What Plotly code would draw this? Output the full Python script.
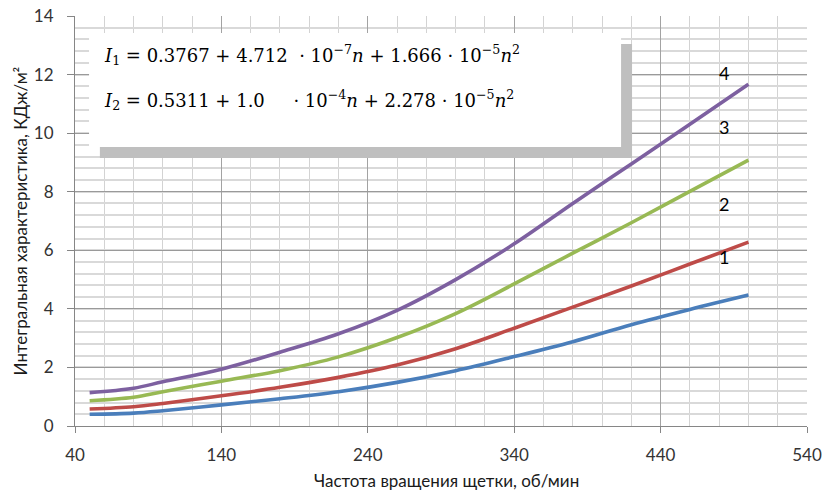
import plotly.graph_objects as go

# Brush rotation speed, rpm
speed = [50, 80, 100, 140, 180, 220, 260, 300, 340, 380, 420, 460, 500]

# Integral characteristic, kJ/m^2, curves 1..4
curve_1 = [0.40, 0.44, 0.52, 0.72, 0.93, 1.17, 1.49, 1.89, 2.37, 2.88, 3.46, 3.98, 4.47]
curve_2 = [0.58, 0.66, 0.77, 1.03, 1.32, 1.66, 2.08, 2.64, 3.34, 4.06, 4.78, 5.53, 6.28]
curve_3 = [0.86, 0.98, 1.17, 1.53, 1.89, 2.36, 3.02, 3.84, 4.85, 5.90, 6.94, 8.01, 9.08]
curve_4 = [1.14, 1.29, 1.51, 1.94, 2.52, 3.15, 3.95, 5.00, 6.22, 7.60, 8.95, 10.30, 11.67]

curve_names = ["1", "2", "3", "4"]
curve_colors = ["#4a7ebb", "#be4b48", "#98b954", "#7d60a0"]

x_ticks = [40, 140, 240, 340, 440, 540]
y_ticks = [0, 2, 4, 6, 8, 10, 12, 14]

fig = go.Figure()
for name, values, color in zip(curve_names, [curve_1, curve_2, curve_3, curve_4], curve_colors):
    fig.add_trace(go.Scatter(
        x=speed, y=values, mode="lines", name=name,
        line=dict(color=color, width=3.6, shape="spline", smoothing=1.0),
        showlegend=False, hoverinfo="x+y",
    ))

# Curve numbers near the right ends
label_pos = {"4": 12.05, "3": 10.22, "2": 7.58, "1": 5.78}
for name, yv in label_pos.items():
    fig.add_annotation(x=483, y=yv, text=name, showarrow=False,
                       font=dict(family="Lato", size=18, color="#000000"),
                       xanchor="center", yanchor="middle")

# Formula box with drop shadow
fig.add_shape(type="rect", xref="x", yref="y", x0=57, x1=420.5, y0=9.15, y1=13.04,
              fillcolor="#bfbfbf", line=dict(width=0), layer="above")
fig.add_shape(type="rect", xref="x", yref="y", x0=49.6, x1=413, y0=9.53, y1=13.42,
              fillcolor="#ffffff", line=dict(width=0), layer="above")

nb = "\u00a0"
eq1 = ("<i>I</i><sub>1</sub> = 0.3767 + 4.712" + nb + nb + "· 10<sup>−7</sup><i>n</i>"
       " + 1.666 · 10<sup>−5</sup><i>n</i><sup>2</sup>")
eq2 = ("<i>I</i><sub>2</sub> = 0.5311 + 1.0" + nb * 5 + "· 10<sup>−4</sup><i>n</i>"
       " + 2.278 · 10<sup>−5</sup><i>n</i><sup>2</sup>")
for txt, yv in [(eq1, 12.66), (eq2, 11.12)]:
    fig.add_annotation(x=58.4, y=yv, text=txt, showarrow=False, xanchor="left",
                       yanchor="middle",
                       font=dict(family="DejaVu Serif", size=18, color="#000000"))

axis_font = dict(family="Lato", size=17, color="#333333")
title_font = dict(family="Lato", size=17, color="#1a1a1a")

# Axis titles placed in paper coordinates
fig.add_annotation(xref="paper", yref="paper", x=0.508, y=-0.132, yanchor="middle",
                   text="Частота вращения щетки, об/мин", showarrow=False, font=title_font)
fig.add_annotation(xref="paper", yref="paper", x=-0.0745, y=0.5, xanchor="center",
                   yanchor="middle", text="Интегральная характеристика, КДж/м²",
                   showarrow=False, textangle=-90, font=title_font)

fig.update_xaxes(
    range=[40, 540], tickvals=x_ticks, ticktext=[str(v) for v in x_ticks],
    showgrid=True, gridcolor="#a3a3a3", gridwidth=1,
    minor=dict(dtick=20, tick0=40, showgrid=True, gridcolor="#d3d3d3", gridwidth=1.3, ticklen=0),
    showline=True, linecolor="#868686", linewidth=1,
    ticks="outside", ticklen=6, tickcolor="#868686", ticklabelstandoff=8,
    tickfont=axis_font, zeroline=False, automargin=False,
)
fig.update_yaxes(
    range=[0, 14], tickvals=y_ticks, ticktext=[str(v) for v in y_ticks],
    showgrid=True, gridcolor="#9a9a9a", gridwidth=1,
    minor=dict(dtick=0.4, tick0=0, showgrid=True, gridcolor="#d9d9d9", gridwidth=2, ticklen=0),
    showline=True, linecolor="#868686", linewidth=1,
    ticks="outside", ticklen=7, tickcolor="#868686", ticklabelstandoff=10,
    tickfont=axis_font, zeroline=False, automargin=False,
)

fig.update_layout(
    width=824, height=494,
    margin=dict(l=75, r=17, t=16, b=68),
    paper_bgcolor="#ffffff", plot_bgcolor="#ffffff",
)

fig.write_html("out.html")
